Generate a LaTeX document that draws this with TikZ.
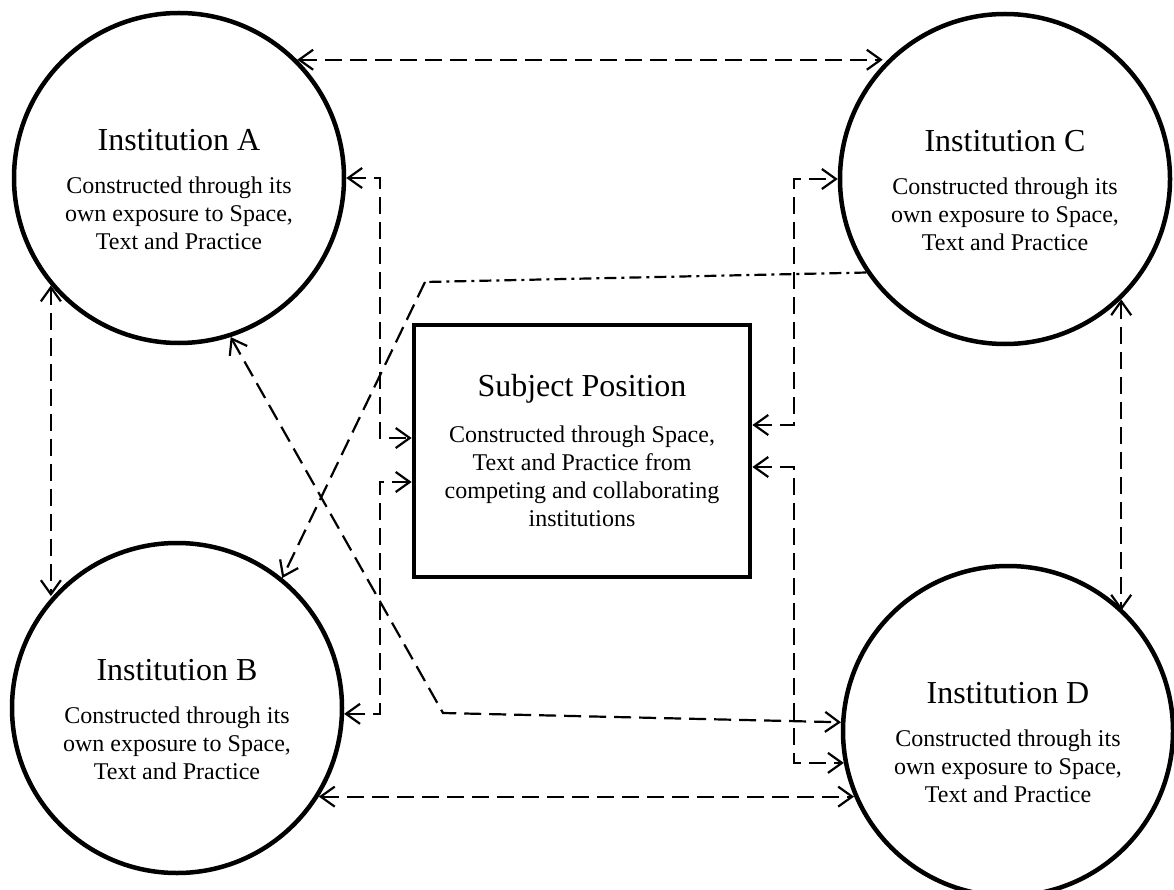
\documentclass[tikz,border=0pt]{standalone}
\usepackage{fontspec}
\setmainfont{Liberation Serif}
\usepackage{tikz}
\usetikzlibrary{arrows.meta,positioning,calc}
\newcommand{\headfs}{\fontsize{32}{36}\selectfont}
\newcommand{\bodyfs}{\fontsize{24}{28}\selectfont}
\tikzset{
  >={Straight Barb[length=14pt,width=20pt]},
  inst/.style={draw, circle, line width=4.5pt, minimum size=330pt, inner sep=0pt},
  itext/.style={align=center, font=\bodyfs, inner sep=0pt},
  subj/.style={draw, line width=4.8pt, minimum width=336pt, minimum height=252pt, align=center, font=\bodyfs},
  link/.style={<->, line width=2.2pt, dash pattern=on 17pt off 8pt},
  dotlink/.style={line width=2.2pt, dash pattern=on 12pt off 5pt on 3pt off 5pt},
}
\begin{document}
\begin{tikzpicture}[x=1pt,y=-1pt]
  \useasboundingbox (0,0) rectangle (1174,890);
  % institutions
  \node[inst] (A) at (179,178) {};
  \node[inst] (B) at (177,708) {};
  \node[inst] (C) at (1005,179) {};
  \node[inst] (D) at (1008,731) {};
  \node[itext] (At) at ([yshift=-12pt]A.center) {{\headfs Institution A}\\[15pt]Constructed through its\\own exposure to Space,\\Text and Practice};
  \node[itext] (Bt) at ([yshift=-12pt]B.center) {{\headfs Institution B}\\[15pt]Constructed through its\\own exposure to Space,\\Text and Practice};
  \node[itext] (Ct) at ([yshift=-12pt]C.center) {{\headfs Institution C}\\[15pt]Constructed through its\\own exposure to Space,\\Text and Practice};
  \node[itext] (Dt) at ([yshift=-12pt]D.center) {{\headfs Institution D}\\[15pt]Constructed through its\\own exposure to Space,\\Text and Practice};
  % subject position
  \node[subj] (S) at (582,451) {{\headfs Subject Position}\\[18pt]Constructed through Space,\\Text and Practice from\\competing and collaborating\\institutions};
  % bus columns and bends
  \coordinate (colL) at (380,0);
  \coordinate (colR) at (794,0);
  \coordinate (k1) at (425,282);
  \coordinate (k2) at (443,713);
  % outer ring
  \draw[link] (A.45) -- (A.45 -| C.137);
  \draw[link] (A.220) -- (A.220 |- B.138);
  \draw[link] (C.314) -- (C.314 |- D.46);
  \draw[link] (B.328) -- (B.328 -| D.203);
  % links to the subject position
  \draw[link] (A.east) -- (A.east -| colL) |- ([yshift=13pt]S.west);
  \draw[link] ([yshift=-31pt]S.west) -| (colL |- B.-2) -- (B.-2);
  \draw[link] ([yshift=26pt]S.east) -| (colR |- C.west) -- (C.west);
  \draw[link] ([yshift=-16pt]S.east) -| (colR |- D.191) -- (D.191);
  % crossing links
  \draw[dotlink] (C.214) -- (k1);
  \draw[link, ->] (k1) -- (B.51);
  \draw[link] (A.288) -- (k2) -- (D.177);
\end{tikzpicture}
\end{document}
